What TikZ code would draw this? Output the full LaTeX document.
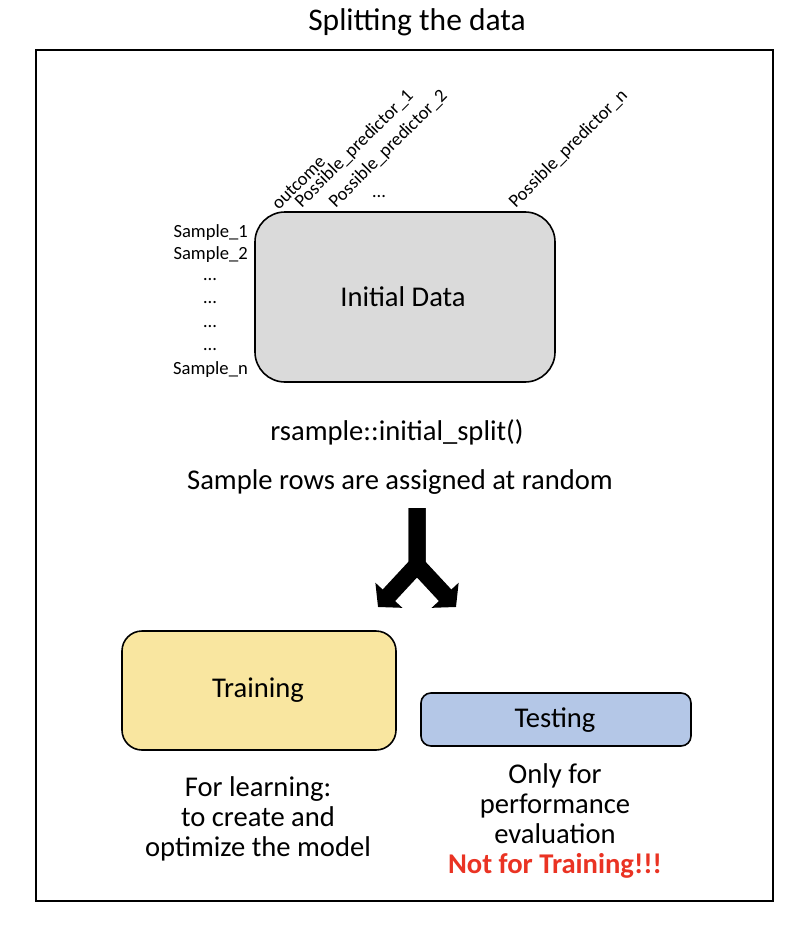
\documentclass[tikz,border=0pt]{standalone}
\usepackage{fontspec}
\setmainfont{Carlito}
\usetikzlibrary{arrows.meta}

\definecolor{datagray}{RGB}{218,218,218}
\definecolor{trainyellow}{RGB}{249,230,160}
\definecolor{testblue}{RGB}{180,199,231}
\definecolor{alertred}{RGB}{234,51,35}

\tikzset{
  databox/.style={draw, line width=1.6pt, rounded corners=30pt},
  smalllabel/.style={font=\fontsize{18.6}{20}\selectfont, inner sep=0pt},
  columnlabel/.style={smalllabel, rotate=45, anchor=south west},
  bigtext/.style={font=\fontsize{28.6}{30}\selectfont, inner sep=0pt},
  caption/.style={font=\fontsize{28.6}{30}\selectfont, align=center, inner sep=0pt},
}

\begin{document}
\begin{tikzpicture}[x=1pt, y=-1pt]
      \useasboundingbox[fill=white] (0, 0) rectangle (798, 936);
      % frame and title
      \node[font=\fontsize{31.5}{33}\selectfont, inner sep=0pt] (title) at (417, 22) {Splitting the data};
      \draw[line width=1.4pt] (36, 50) rectangle (773, 901);
      % initial data
      \draw[databox, fill=datagray] (255, 212) rectangle (555, 382);
      \node[bigtext] (initial) at (403, 297) {Initial Data};
      \node[columnlabel] (outcome) at (279, 211) {outcome};
      \node[columnlabel] (pred1) at (304, 211) {Possible\_predictor\_1};
      \node[columnlabel] (pred2) at (338, 211) {Possible\_predictor\_2};
      \node[smalllabel] (preddots) at (379, 197) {\dots};
      \node[columnlabel] (predn) at (518, 211) {Possible\_predictor\_n};
      \node[smalllabel, anchor=east] (sample1) at (248, 233) {Sample\_1};
      \node[smalllabel, anchor=east] (sample2) at (248, 255) {Sample\_2};
      \node[smalllabel] (dots1) at (210, 280) {\dots};
      \node[smalllabel] (dots2) at (210, 303) {\dots};
      \node[smalllabel] (dots3) at (210, 327) {\dots};
      \node[smalllabel] (dots4) at (210, 350) {\dots};
      \node[smalllabel, anchor=east] (samplen) at (248, 370) {Sample\_n};
      % split
      \node[bigtext] (split) at (397, 432) {rsample::initial\_split()};
      \node[bigtext] (random) at (400, 482) {Sample rows are assigned at random};
      \coordinate (forktop) at (417, 508);
      \coordinate (forkmid) at (417, 565);
      \coordinate (forkleft) at (378, 607);
      \coordinate (forkright) at (456, 607);
      \draw[line width=17pt, -{Triangle[length=16pt, width=36pt]}] (forktop) -- (forkmid) -- (forkleft);
      \draw[line width=17pt, -{Triangle[length=16pt, width=36pt]}] (forktop) -- (forkmid) -- (forkright);
      % training and testing
      \draw[databox, rounded corners=20pt, fill=trainyellow] (122, 631) rectangle (396, 750);
      \node[bigtext] (training) at (258, 690) {Training};
      \draw[databox, rounded corners=10pt, fill=testblue] (421, 693) rectangle (691, 746);
      \node[bigtext] (testing) at (555, 720) {Testing};
      \node[caption, anchor=north] (learncap) at (258, 776) {For learning:\\to create and\\optimize the model};
      \node[caption, anchor=north] (testcap) at (555, 763) {Only for\\performance\\evaluation\\{\bfseries\color{alertred}Not for Training!!!}};
    \end{tikzpicture}
\end{document}
